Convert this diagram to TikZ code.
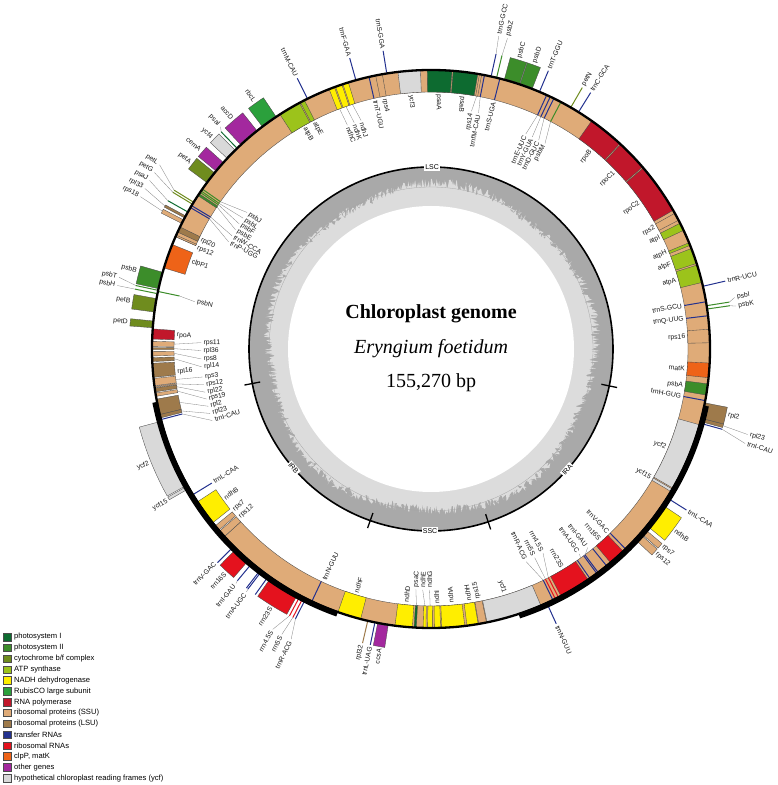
\documentclass[tikz,border=0pt]{standalone}
\usepackage{fontspec}
\setmainfont{Liberation Serif}
\setsansfont{Liberation Sans}
\definecolor{psI}{HTML}{0D6B30}
\definecolor{psII}{HTML}{3C8D2A}
\definecolor{cyt}{HTML}{6F8C1E}
\definecolor{atp}{HTML}{9CC31B}
\definecolor{ndh}{HTML}{FFEE00}
\definecolor{rbc}{HTML}{2BA03C}
\definecolor{rpo}{HTML}{C1172B}
\definecolor{ssu}{HTML}{DFAB78}
\definecolor{lsu}{HTML}{9E7A4B}
\definecolor{trna}{HTML}{23318F}
\definecolor{rrna}{HTML}{E4121E}
\definecolor{orf}{HTML}{EE6318}
\definecolor{othg}{HTML}{A3289E}
\definecolor{ycf}{HTML}{D9D9D9}
\definecolor{gcdark}{HTML}{A9A9A9}
\definecolor{gclight}{HTML}{DCDCDC}
\newcount\labn
\newcommand\gbox[4]{%
 \pgfmathsetmacro\zzA{2.3185*(#1)-11.7}%
 \pgfmathsetmacro\zzB{2.3185*(#2)-11.7}%
 \if#4o\def\zzrA{280}\def\zzrB{302}\else\def\zzrA{257}\def\zzrB{279}\fi
 \filldraw[fill=#3,draw=black!70,line width=0.35pt] (\zzA:\zzrA pt) arc[start angle=\zzA,end angle=\zzB,radius=\zzrA pt] -- (\zzB:\zzrB pt) arc[start angle=\zzB,end angle=\zzA,radius=\zzrB pt] -- cycle;}
\newcommand\gline[3]{%
 \pgfmathsetmacro\zzA{2.3185*(#1)-11.7}%
 \if#3o\def\zzrA{280}\def\zzrB{302}\else\def\zzrA{257}\def\zzrB{279}\fi
 \draw[#2,line width=1pt] (\zzA:\zzrA pt) -- (\zzA:\zzrB pt);}
\newcommand\glab[5]{%
 \pgfmathsetmacro\zzG{2.3185*(#1)-11.7}%
 \pgfmathsetmacro\zzL{2.3185*(#2)-11.7}%
 \pgfmathsetmacro\zzN{mod(\zzL+540,360)-180}%
 \pgfmathtruncatemacro\zzmode{and(\zzN>-78,\zzN<82)}%
 \if#3o\def\zzE{302}\pgfmathsetmacro\zzRL{302+#4}\pgfmathsetmacro\zzRT{\zzRL+2}%
 \else\def\zzE{257}\pgfmathsetmacro\zzRL{257-#4}\pgfmathsetmacro\zzRT{\zzRL-2}\fi
 \ifdim#4pt>0pt\draw[leader] (\zzG:\zzE pt) -- (\zzL:\zzRL pt);\fi
 \ifnum\zzmode=1 \pgfmathsetmacro\zzrot{\zzN}\if#3o\def\zzanc{west}\else\def\zzanc{east}\fi
 \else\pgfmathsetmacro\zzrot{\zzN+180}\if#3o\def\zzanc{east}\else\def\zzanc{west}\fi\fi
 \global\advance\labn by 1
 \node[glabel,rotate=\zzrot,anchor=\zzanc] (lab\the\labn) at (\zzL:\zzRT pt) {#5};}
\newcommand\legitem[3]{%
 \pgfmathsetmacro\zzY{148-10.85*#1}%
 \node[legsq,fill=#2] (legsq#1) at (7,\zzY) {};
 \node[legtext] (legtx#1) at (14,\zzY) {#3};}
\begin{document}
\begin{tikzpicture}[x=1pt,y=1pt,
  leader/.style={draw=black!50,line width=0.3pt},
  glabel/.style={font=\sffamily\fontsize{6.8}{7}\selectfont,inner sep=0.3pt,text=black!90},
  reglab/.style={font=\sffamily\fontsize{7}{7}\selectfont,fill=white,inner sep=1.2pt},
  legsq/.style={draw=black!70,line width=0.4pt,minimum size=7.5pt,inner sep=0pt},
  legtext/.style={anchor=west,font=\sffamily\fontsize{7.6}{8}\selectfont,inner sep=0pt}]
\useasboundingbox (0,0) rectangle (777,785);
\fill[white] (0,0) rectangle (777,785);
\begin{scope}[shift={(431,436)}]
% giant rps12 band
\gbox{-54.37}{72.45}{ssu}{i}
% ---- inside genes
\gline{0.45}{trna}{i}
\gbox{0.95}{1.95}{psII}{i}
\gbox{2.5}{3.8}{orf}{i}
\gbox{5.6}{6.8}{ssu}{i}
\gline{8.0}{trna}{i}
\gline{9.25}{trna}{i}
\gbox{11.0}{12.6}{atp}{i}
\gbox{12.75}{14.15}{atp}{i}
\gbox{14.45}{14.7}{atp}{i}
\gbox{15.9}{16.6}{atp}{i}
\gbox{16.9}{17.6}{ssu}{i}
\gbox{17.9}{22.5}{rpo}{i}
\gbox{22.6}{25.4}{rpo}{i}
\gbox{25.5}{28.7}{rpo}{i}
\gline{31.9}{psII}{i}
\gline{32.6}{trna}{i}
\gline{32.95}{trna}{i}
\gline{33.3}{trna}{i}
\gline{37.7}{trna}{i}
\gline{39.1}{trna}{i}
\gbox{39.35}{39.55}{ssu}{i}
\gbox{39.7}{41.9}{psI}{i}
\gbox{42.0}{44.2}{psI}{i}
\gbox{44.8}{46.8}{ycf}{i}
\gbox{48.2}{48.8}{ssu}{i}
\gline{49.4}{trna}{i}
\gbox{51.3}{51.8}{ndh}{i}
\gbox{51.9}{52.5}{ndh}{i}
\gbox{52.6}{53.1}{ndh}{i}
\gbox{55.5}{55.9}{atp}{i}
\gbox{56.0}{58.0}{atp}{i}
\gline{67.6}{psII}{i}
\gline{67.8}{psII}{i}
\gline{67.95}{psII}{i}
\gbox{68.1}{68.3}{psII}{i}
\gline{69.35}{trna}{i}
\gline{69.55}{trna}{i}
\gbox{71.5}{72.0}{lsu}{i}
\gbox{72.3}{72.45}{ssu}{i}
\gbox{73.2}{75.4}{orf}{i}
\gline{77.55}{psII}{i}
\gbox{80.9}{81.8}{rpo}{i}
\gbox{82.0}{82.45}{ssu}{i}
\gbox{82.55}{82.75}{lsu}{i}
\gbox{82.9}{83.3}{ssu}{i}
\gbox{83.45}{83.8}{lsu}{i}
\gbox{83.95}{85.2}{lsu}{i}
\gbox{85.3}{85.95}{ssu}{i}
\gbox{86.0}{86.1}{ssu}{i}
\gbox{86.15}{86.5}{lsu}{i}
\gbox{86.6}{86.9}{ssu}{i}
\gbox{87.15}{88.55}{lsu}{i}
\gbox{88.55}{88.85}{lsu}{i}
\gline{89.0}{trna}{i}
\gline{96.25}{trna}{i}
\gbox{97.0}{99.3}{ndh}{i}
\gbox{99.65}{100.15}{ssu}{i}
\gbox{100.25}{100.9}{ssu}{i}
\gline{110.6}{trna}{i}
\gbox{113.1}{115.2}{ndh}{i}
\gbox{118.3}{119.85}{ndh}{i}
\gbox{120.0}{120.2}{psI}{i}
\gbox{120.8}{121.05}{ndh}{i}
\gbox{121.2}{121.65}{ndh}{i}
\gbox{121.8}{122.35}{ndh}{i}
\gbox{122.45}{124.5}{ndh}{i}
\gbox{124.7}{125.7}{ndh}{i}
\gbox{125.75}{126.45}{ssu}{i}
\gbox{126.5}{131.5}{ycf}{i}
\gline{132.67}{trna}{i}
\gline{132.91}{rrna}{i}
\gline{133.22}{rrna}{i}
\gbox{133.47}{136.27}{rrna}{i}
\gline{136.47}{trna}{i}
\gline{137.22}{trna}{i}
\gline{137.37}{trna}{i}
\gline{138.32}{trna}{i}
\gbox{138.77}{140.27}{rrna}{i}
\gline{140.57}{trna}{i}
\gbox{147.07}{147.32}{ycf}{i}
\gbox{147.42}{153.52}{ycf}{i}
% ---- outside genes
\gline{8.6}{psII}{o}
\gline{8.9}{psII}{o}
\gline{10.65}{trna}{o}
\gline{30.1}{trna}{o}
\gline{30.9}{cyt}{o}
\gline{34.0}{trna}{o}
\gbox{34.7}{35.85}{psII}{o}
\gbox{35.9}{37.3}{psII}{o}
\gline{38.0}{psII}{o}
\gline{38.5}{trna}{o}
\gline{47.8}{trna}{o}
\gline{50.6}{trna}{o}
\gline{55.2}{trna}{o}
\gbox{58.4}{59.9}{rbc}{o}
\gbox{60.5}{62.4}{othg}{o}
\gline{62.85}{psI}{o}
\gbox{63.1}{64.1}{ycf}{o}
\gbox{64.6}{65.6}{othg}{o}
\gbox{65.8}{66.9}{cyt}{o}
\gline{69.0}{cyt}{o}
\gline{69.2}{cyt}{o}
\gline{70.0}{psI}{o}
\gbox{70.4}{70.6}{lsu}{o}
\gbox{70.8}{71.15}{ssu}{o}
\gbox{75.8}{77.3}{psII}{o}
\gline{77.45}{psII}{o}
\gline{77.75}{psII}{o}
\gbox{78.2}{79.4}{cyt}{o}
\gbox{80.2}{80.8}{cyt}{o}
\gbox{89.15}{95.25}{ycf}{o}
\gbox{95.35}{95.6}{ycf}{o}
\gline{102.1}{trna}{o}
\gbox{102.4}{103.9}{rrna}{o}
\gline{104.3}{trna}{o}
\gline{105.25}{trna}{o}
\gline{105.4}{trna}{o}
\gline{106.15}{trna}{o}
\gbox{106.4}{109.2}{rrna}{o}
\gline{109.45}{rrna}{o}
\gline{109.76}{rrna}{o}
\gline{110.0}{trna}{o}
\gline{115.85}{lsu}{o}
\gline{116.5}{trna}{o}
\gbox{116.75}{117.7}{othg}{o}
\gline{132.07}{trna}{o}
\gbox{141.77}{142.42}{ssu}{o}
\gbox{142.52}{143.02}{ssu}{o}
\gbox{143.37}{145.67}{ndh}{o}
\gline{146.42}{trna}{o}
\gline{153.67}{trna}{o}
\gbox{153.82}{154.12}{lsu}{o}
\gbox{154.12}{155.52}{lsu}{o}
% ---- genome circle line
\draw[line width=2.3pt] (0,0) circle (279pt);
\draw[line width=5.5pt] (190.94:281pt) arc[start angle=190.94,end angle=250.5,radius=281pt];
\draw[line width=5.5pt] (288.3:281pt) arc[start angle=288.3,end angle=348.3,radius=281pt];
% ---- labels
\glab{0.45}{0.45}{i}{0}{trnH-GUG}
\glab{1.45}{1.45}{i}{0}{psbA}
\glab{3.15}{3.15}{i}{0}{matK}
\glab{6.2}{6.2}{i}{0}{rps16}
\glab{8.0}{8.0}{i}{0}{trnQ-UUG}
\glab{9.25}{9.25}{i}{0}{trnS-GCU}
\glab{8.6}{8.5}{o}{6}{psbK}
\glab{8.9}{9.2}{o}{6}{psbI}
\glab{10.65}{10.65}{o}{0}{trnR-UCU}
\glab{11.8}{11.8}{i}{0}{atpA}
\glab{13.45}{13.45}{i}{0}{atpF}
\glab{14.57}{14.65}{i}{0}{atpH}
\glab{16.25}{16.25}{i}{0}{atpI}
\glab{17.25}{17.35}{i}{0}{rps2}
\glab{20.2}{20.2}{i}{0}{rpoC2}
\glab{24.0}{24.0}{i}{0}{rpoC1}
\glab{27.1}{27.1}{i}{0}{rpoB}
\glab{30.1}{30.1}{o}{0}{trnC-GCA}
\glab{30.9}{30.9}{o}{0}{petN}
\glab{31.9}{31.35}{i}{22}{psbM}
\glab{32.6}{32.1}{i}{22}{trnD-GUC}
\glab{32.95}{32.85}{i}{22}{trnY-GUA}
\glab{33.3}{33.6}{i}{22}{trnE-UUC}
\glab{34.0}{34.0}{o}{0}{trnT-GGU}
\glab{35.3}{35.3}{o}{0}{psbD}
\glab{36.6}{36.6}{o}{0}{psbC}
\glab{37.7}{37.7}{i}{0}{trnS-UGA}
\glab{38.0}{37.9}{o}{18}{psbZ}
\glab{38.5}{38.6}{o}{18}{trnG-GCC}
\glab{39.1}{38.95}{i}{16}{trnfM-CAU}
\glab{39.45}{39.7}{i}{16}{rps14}
\glab{40.8}{40.8}{i}{0}{psaB}
\glab{43.1}{43.1}{i}{0}{psaA}
\glab{45.8}{45.8}{i}{0}{ycf3}
\glab{47.8}{47.8}{o}{0}{trnS-GGA}
\glab{48.5}{48.4}{i}{0}{rps4}
\glab{49.4}{49.3}{i}{0}{trnT-UGU}
\glab{50.6}{50.6}{o}{0}{trnF-GAA}
\glab{51.55}{51.2}{i}{18}{ndhJ}
\glab{52.2}{51.95}{i}{18}{ndhK}
\glab{52.85}{52.7}{i}{18}{ndhC}
\glab{55.2}{55.2}{o}{0}{trnM-CAU}
\glab{55.7}{55.6}{i}{0}{atpE}
\glab{57.0}{56.7}{i}{0}{atpB}
\glab{59.15}{59.15}{o}{0}{rbcL}
\glab{61.45}{61.45}{o}{0}{accD}
\glab{62.85}{62.6}{o}{4}{psaI}
\glab{63.6}{63.75}{o}{0}{ycf4}
\glab{65.1}{65.1}{o}{0}{cemA}
\glab{66.35}{66.4}{o}{0}{petA}
\glab{67.6}{66.9}{i}{28}{psbJ}
\glab{67.8}{67.65}{i}{28}{psbL}
\glab{67.95}{68.4}{i}{28}{psbF}
\glab{68.2}{69.15}{i}{28}{psbE}
\glab{69.35}{69.9}{i}{28}{trnW-CCA}
\glab{69.55}{70.65}{i}{28}{trnP-UGG}
\glab{69.0}{67.95}{o}{26}{petL}
\glab{69.2}{68.65}{o}{26}{petG}
\glab{70.0}{69.35}{o}{26}{psaJ}
\glab{70.5}{70.05}{o}{26}{rpl33}
\glab{70.97}{70.75}{o}{26}{rps18}
\glab{71.75}{71.75}{i}{0}{rpl20}
\glab{72.4}{72.6}{i}{0}{rps12}
\glab{74.3}{74.0}{i}{0}{clpP1}
\glab{76.55}{76.3}{o}{0}{psbB}
\glab{77.45}{77.1}{o}{18}{psbT}
\glab{77.75}{77.75}{o}{18}{psbH}
\glab{77.55}{77.8}{i}{16}{psbN}
\glab{78.8}{78.8}{o}{0}{petB}
\glab{80.5}{80.5}{o}{0}{petD}
\glab{81.35}{81.35}{i}{0}{rpoA}
\glab{82.22}{82.0}{i}{27}{rps11}
\glab{82.65}{82.85}{i}{27}{rpl36}
\glab{83.1}{83.75}{i}{27}{rps8}
\glab{83.62}{84.6}{i}{27}{rpl14}
\glab{84.57}{84.9}{i}{0}{rpl16}
\glab{85.62}{85.7}{i}{27}{rps3}
\glab{86.05}{86.55}{i}{27}{rps12}
\glab{86.32}{87.35}{i}{27}{rpl22}
\glab{86.75}{88.1}{i}{27}{rps19}
\glab{87.85}{88.9}{i}{27}{rpl2}
\glab{88.7}{89.7}{i}{27}{rpl23}
\glab{89.0}{90.5}{i}{27}{trnI-CAU}
\glab{92.2}{92.2}{o}{0}{ycf2}
\glab{95.47}{95.6}{o}{0}{ycf15}
\glab{96.25}{96.25}{i}{0}{trnL-CAA}
\glab{98.15}{98.15}{i}{0}{ndhB}
\glab{99.9}{99.6}{i}{0}{rps7}
\glab{100.57}{100.5}{i}{0}{rps12}
\glab{102.1}{102.0}{o}{0}{trnV-GAC}
\glab{103.15}{103.15}{o}{0}{rrn16S}
\glab{104.3}{104.35}{o}{3}{trnI-GAU}
\glab{105.4}{105.45}{o}{3}{trnA-UGC}
\glab{107.8}{107.8}{o}{0}{rrn23S}
\glab{109.45}{108.8}{o}{20}{rrn4.5S}
\glab{109.76}{109.6}{o}{20}{rrn5S}
\glab{110.0}{110.4}{o}{20}{trnR-ACG}
\glab{110.6}{110.8}{i}{0}{trnN-GUU}
\glab{114.15}{114.15}{i}{0}{ndhF}
\glab{115.85}{115.8}{o}{0}{rpl32}
\glab{116.5}{116.5}{o}{0}{trnL-UAG}
\glab{117.25}{117.3}{o}{0}{ccsA}
\glab{119.1}{119.1}{i}{0}{ndhD}
\glab{120.1}{119.95}{i}{16}{psaC}
\glab{120.92}{120.65}{i}{16}{ndhE}
\glab{121.42}{121.35}{i}{16}{ndhG}
\glab{122.07}{122.07}{i}{0}{ndhI}
\glab{123.47}{123.47}{i}{0}{ndhA}
\glab{125.2}{125.2}{i}{0}{ndhH}
\glab{126.1}{126.1}{i}{0}{rps15}
\glab{128.7}{128.7}{i}{0}{ycf1}
\glab{132.07}{132.07}{o}{0}{trnN-GUU}
\glab{132.67}{131.9}{i}{24}{trnR-ACG}
\glab{132.91}{132.9}{i}{24}{rrn5S}
\glab{133.22}{133.9}{i}{24}{rrn4.5S}
\glab{134.87}{134.87}{i}{0}{rrn23S}
\glab{136.85}{137.0}{i}{4}{trnA-UGC}
\glab{137.4}{138.0}{i}{4}{trnI-GAU}
\glab{139.52}{139.4}{i}{0}{rrn16S}
\glab{140.57}{140.5}{i}{0}{trnV-GAC}
\glab{142.1}{142.1}{o}{0}{rps12}
\glab{142.77}{142.9}{o}{0}{rps7}
\glab{144.52}{144.52}{o}{0}{ndhB}
\glab{146.42}{146.42}{o}{0}{trnL-CAA}
\glab{147.2}{147.2}{i}{0}{ycf15}
\glab{150.5}{150.5}{i}{0}{ycf2}
\glab{153.67}{153.1}{o}{26}{trnI-CAU}
\glab{153.97}{153.8}{o}{26}{rpl23}
\glab{154.82}{154.9}{o}{0}{rpl2}
% ---- GC content ring
\fill[gcdark] (0,0) circle (182pt);
\pgfmathsetseed{11}
\fill[gclight] plot[domain=0:360,samples=1441,variable=\t] (\t:{158+3*sin(5*\t+30)+10*rnd}) -- cycle;
\fill[white] (0,0) circle (143pt);
\draw[black!35,line width=0.3pt] (0,0) circle (162pt);
\draw[line width=1.6pt] (0,0) circle (182pt);
\foreach \a in {-11.7,-71.7,-109.5,-169.06}
  \draw[line width=1.3pt] (\a:174pt) -- (\a:190pt);
\node[reglab] (lsc) at (89.65:182pt) {LSC};
\node[reglab,rotate=48.45] (ira) at (-41.55:182pt) {IRA};
\node[reglab] (ssc) at (-90.3:182pt) {SSC};
\node[reglab,rotate=-49.1] (irb) at (-139.1:182pt) {IRB};
\end{scope}
% ---- title
\node[font=\bfseries\fontsize{20}{20}\selectfont] (title) at (431,471) {Chloroplast genome};
\node[font=\itshape\fontsize{20}{20}\selectfont] (species) at (431,436) {Eryngium foetidum};
\node[font=\fontsize{20}{20}\selectfont] (size) at (431,402) {155,270 bp};
% ---- legend
\legitem{0}{psI}{photosystem I}
\legitem{1}{psII}{photosystem II}
\legitem{2}{cyt}{cytochrome b/f complex}
\legitem{3}{atp}{ATP synthase}
\legitem{4}{ndh}{NADH dehydrogenase}
\legitem{5}{rbc}{RubisCO large subunit}
\legitem{6}{rpo}{RNA polymerase}
\legitem{7}{ssu}{ribosomal proteins (SSU)}
\legitem{8}{lsu}{ribosomal proteins (LSU)}
\legitem{9}{trna}{transfer RNAs}
\legitem{10}{rrna}{ribosomal RNAs}
\legitem{11}{orf}{clpP, matK}
\legitem{12}{othg}{other genes}
\legitem{13}{ycf}{hypothetical chloroplast reading frames (ycf)}
\end{tikzpicture}
\end{document}
